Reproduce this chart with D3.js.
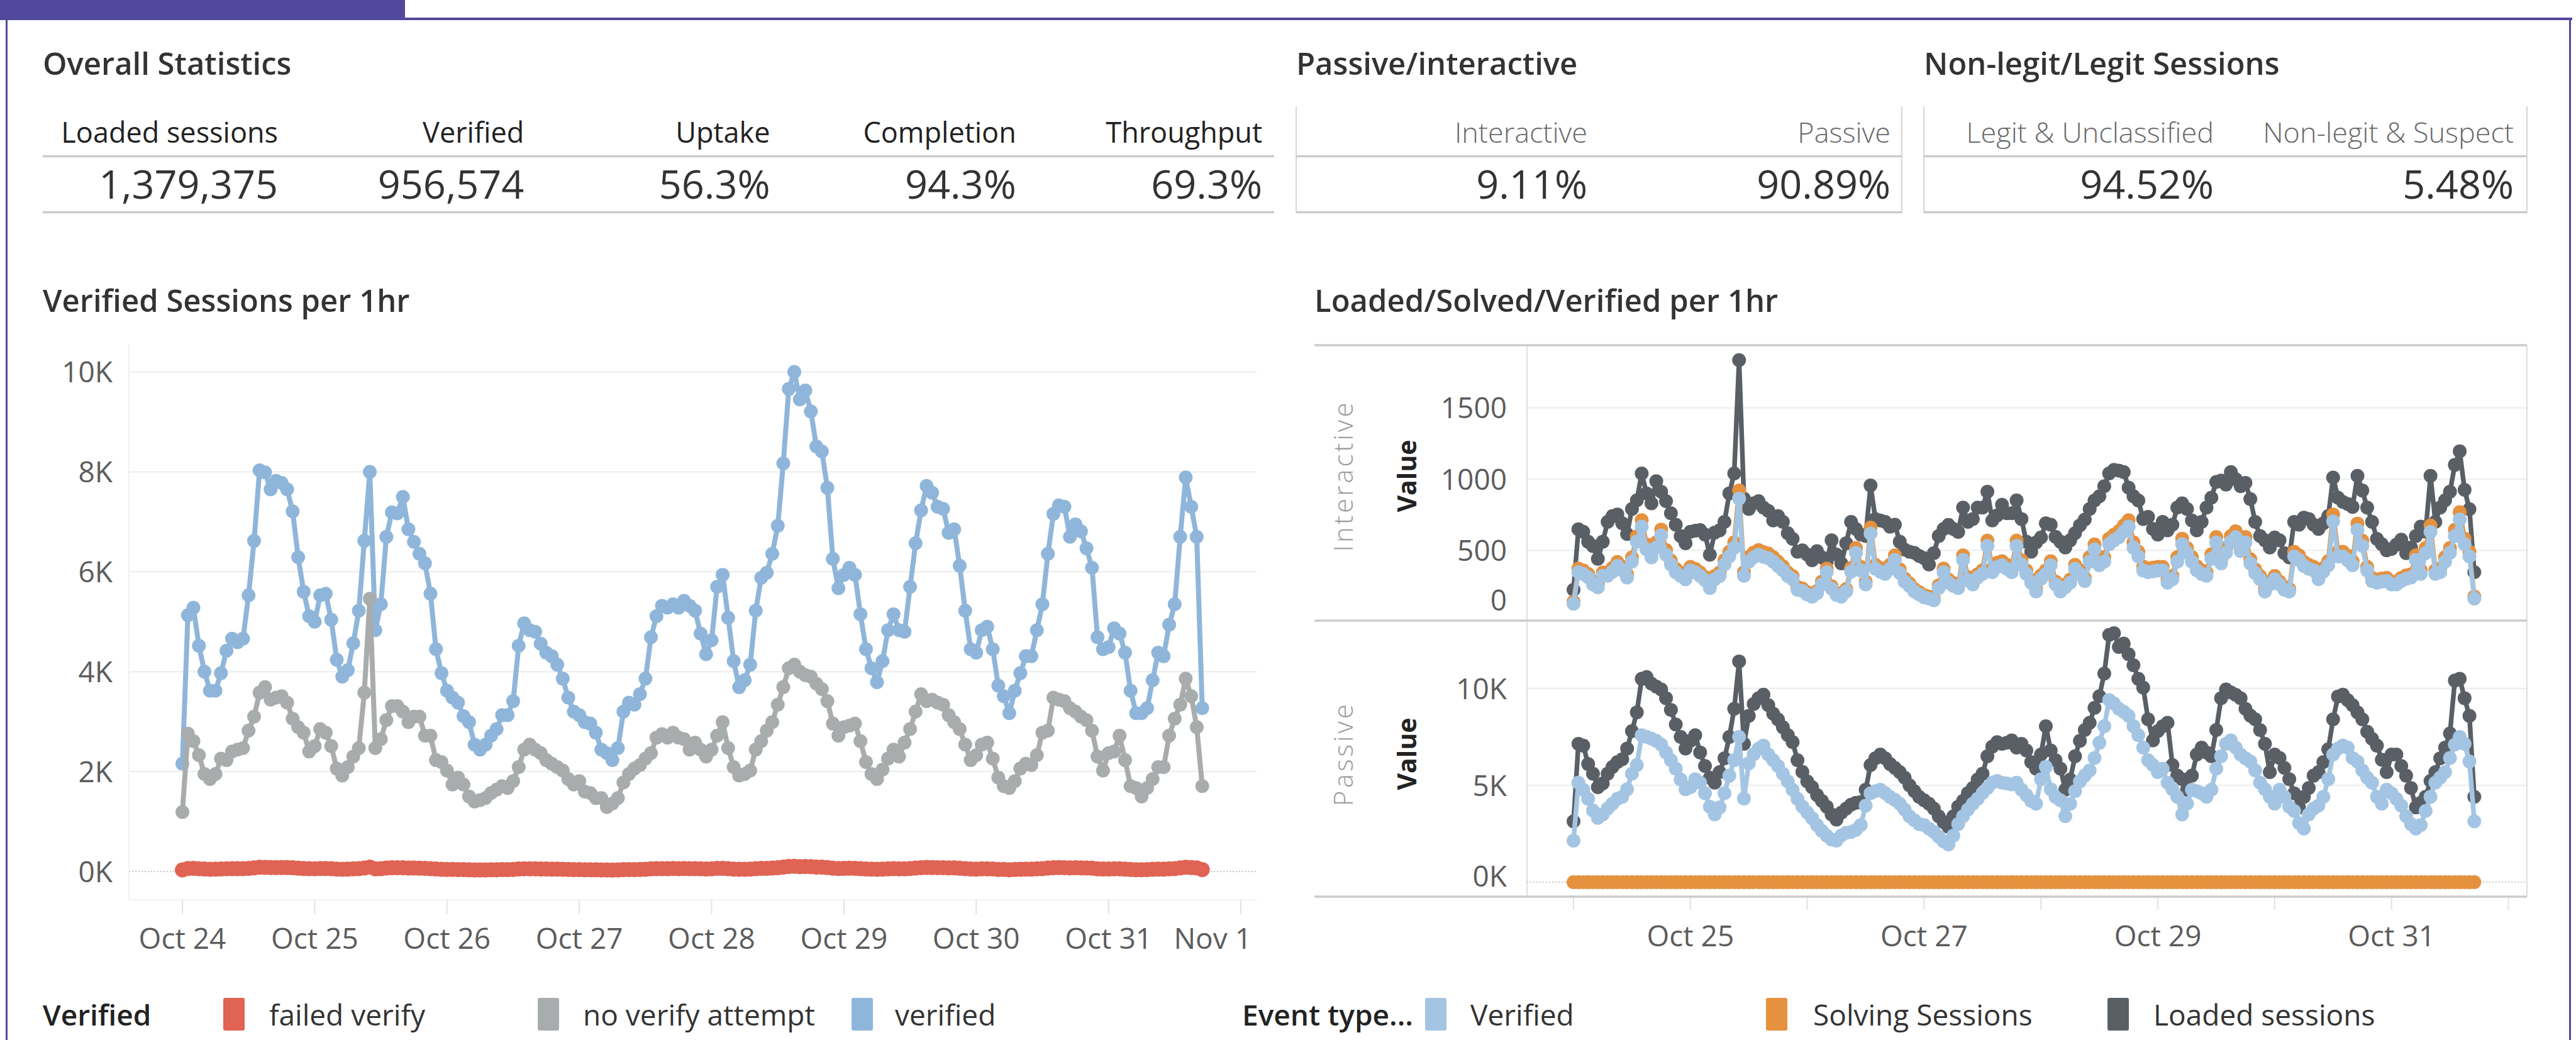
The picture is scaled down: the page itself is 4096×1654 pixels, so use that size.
<!DOCTYPE html>
<html><head><meta charset="utf-8">
<script src="https://cdn.jsdelivr.net/npm/d3@7"></script>
<style>html,body{margin:0;padding:0;background:#fff;overflow:hidden;}</style>
</head><body>
<script>
// ---------------- DATA ----------------
const statHeaders = ["Loaded sessions","Verified","Uptake","Completion","Throughput"];
const statValues  = ["1,379,375","956,574","56.3%","94.3%","69.3%"];
const piHeaders = ["Interactive","Passive"];
const piValues  = ["9.11%","90.89%"];
const legitHeaders = ["Legit & Unclassified","Non-legit & Suspect"];
const legitValues  = ["94.52%","5.48%"];

const dayLabelsLeft = ["Oct 24","Oct 25","Oct 26","Oct 27","Oct 28","Oct 29","Oct 30","Oct 31","Nov 1"];
const dayLabelsRight = ["","Oct 25","","Oct 27","","Oct 29","","Oct 31",""];
const leftYTicks = [0,2000,4000,6000,8000,10000];
const leftYLabels = ["0K","2K","4K","6K","8K","10K"];
const interYTicks = [0,500,1000,1500];
const interYLabels = ["0","500","1000","1500"];
const passYTicks = [0,5000,10000];
const passYLabels = ["0K","5K","10K"];

const leftLegend = ["failed verify","no verify attempt","verified"];
const rightLegend = ["Verified","Solving Sessions","Loaded sessions"];

// hourly values from Oct 24 00:00 (186 hours)
const verified = [2160,5130,5280,4520,4000,3620,3620,3970,4420,4660,
4590,4660,5530,6620,8030,7990,7650,7820,7780,7650,
7210,6290,5600,5110,5000,5530,5560,5040,4240,3900,
4030,4570,5220,6620,8000,4830,5350,6700,7190,7170,
7500,6850,6600,6360,6170,5560,4450,3970,3620,3480,
3380,3110,2990,2540,2440,2540,2720,2850,3130,3130,
3410,4520,4970,4830,4800,4560,4380,4310,4140,3860,
3480,3200,3130,2990,2960,2780,2440,2370,2230,2470,
3200,3380,3340,3550,3860,4690,5110,5320,5280,5350,
5280,5420,5320,5220,4760,4350,4630,5700,5940,5080,
4210,3690,3830,4140,5220,5880,5980,6360,6920,8170,
9660,10000,9450,9630,9210,8510,8410,7680,6260,5670,
5940,6080,5940,5150,4450,4070,3790,4210,4830,5150,
4830,4800,5700,6570,7230,7720,7580,7300,7260,6780,
6850,6120,5220,4450,4380,4830,4900,4450,3720,3510,
3170,3620,3970,4310,4310,4830,5350,6360,7160,7330,
7300,6700,6950,6810,6470,6080,4690,4450,4490,4870,
4760,4380,3620,3170,3170,3270,3830,4380,4310,4940,
5350,6700,7890,7300,6700,3270];
const noVerify = [1190,2760,2610,2330,1950,1850,1950,2260,2230,2400,
2440,2470,2820,3100,3580,3690,3440,3480,3510,3380,
3060,2890,2780,2400,2510,2850,2780,2510,2060,1920,
2090,2300,2470,3580,5460,2470,2650,3030,3310,3310,
3200,2990,3100,3100,2720,2720,2230,2190,2020,1740,
1880,1740,1500,1400,1430,1470,1570,1640,1710,1670,
1810,2090,2440,2540,2440,2370,2230,2160,2090,2020,
1850,1740,1810,1600,1570,1470,1470,1290,1360,1470,
1780,1950,2060,2130,2260,2370,2680,2750,2680,2780,
2680,2650,2440,2580,2440,2300,2440,2720,2990,2470,
2090,1920,1950,2020,2440,2610,2820,2990,3340,3690,
4070,4140,4000,3930,3900,3760,3650,3410,2960,2720,
2890,2920,2960,2610,2190,1950,1850,2040,2260,2440,
2300,2580,2850,3200,3550,3410,3440,3380,3340,3130,
2990,2850,2540,2230,2330,2540,2580,2260,1880,1710,
1670,1810,2060,2160,2130,2330,2780,2820,3480,3440,
3410,3270,3200,3100,3030,2820,2300,2020,2370,2400,
2720,2230,1710,1670,1500,1670,1850,2090,2090,2720,
3060,3340,3860,3510,2890,1710];
const failedVerify = [30,60,62,55,50,45,46,50,55,57,
56,58,64,72,85,82,78,80,80,78,
74,66,60,56,55,60,61,56,48,44,
46,52,58,70,88,54,58,70,74,74,
76,70,68,66,64,58,49,45,42,40,
39,37,36,32,31,32,34,35,38,38,
40,50,55,54,53,51,49,48,47,44,
40,38,37,36,35,34,31,30,29,31,
37,39,39,41,44,52,56,58,58,59,
58,59,58,57,53,49,52,62,64,56,
48,43,44,47,57,63,64,68,74,88,
102,105,98,100,96,89,88,80,67,61,
64,65,64,56,49,46,43,47,53,56,
53,53,61,70,77,82,80,77,77,72,
73,66,57,49,48,53,54,49,42,40,
36,41,44,48,48,53,58,68,76,78,
77,71,74,72,69,65,52,49,50,54,
52,48,41,36,36,37,43,48,48,54,
58,71,84,78,71,37];

const interLoaded = [223,648,630,560,530,440,560,700,740,752,
690,615,790,851,1040,900,830,986,912,845,
760,680,600,550,630,638,642,610,469,625,
640,700,900,1040,1836,863,790,830,845,800,
777,710,740,700,620,580,490,500,470,430,
494,450,420,570,470,408,550,700,650,610,
600,956,720,710,700,666,680,560,505,490,
482,460,445,400,480,600,650,679,650,629,
800,700,720,800,800,912,710,745,820,760,
760,851,720,560,490,555,590,690,680,595,
560,520,570,620,675,716,790,850,880,950,
1040,1065,1060,1050,940,880,850,720,735,650,
610,700,640,680,800,830,790,710,640,700,
800,870,980,990,962,1050,1000,950,974,860,
700,600,570,520,590,570,480,450,700,680,
730,720,680,650,690,740,1011,870,840,826,
805,1023,920,800,700,580,543,500,510,540,
575,480,520,600,666,630,1023,700,800,851,
912,1100,1196,925,789,346];
const interSolving = [140,372,358,334,282,262,344,345,376,418,
386,332,450,598,712,542,482,556,646,502,
428,370,344,320,384,370,344,312,254,320,
344,430,490,556,920,346,452,484,502,488,
478,452,420,388,344,320,242,232,206,190,
214,280,372,248,202,190,228,376,516,384,
280,660,398,376,360,398,464,366,302,268,
228,206,184,175,162,254,372,294,270,254,
464,312,280,332,360,568,372,412,424,398,
372,568,430,360,294,228,324,360,424,280,
228,260,294,398,360,306,452,542,424,452,
582,610,634,674,712,556,490,386,372,378,
384,384,294,320,452,582,516,452,388,360,
346,472,594,438,516,600,634,530,594,438,
366,320,228,280,320,280,242,228,490,464,
418,398,384,320,376,424,752,490,490,462,
424,688,568,384,306,294,302,306,280,280,
306,324,332,464,360,516,674,360,372,452,
516,644,768,582,490,175];
const interVerified = [124,346,334,310,260,240,321,321,350,390,
360,309,420,560,666,506,450,520,605,469,
400,345,320,297,358,345,320,290,235,297,
320,400,457,518,863,321,420,450,469,455,
445,420,390,360,320,297,223,215,190,174,
198,260,346,230,186,174,211,350,482,358,
260,617,371,350,334,371,432,340,280,248,
211,190,170,161,149,235,346,272,250,235,
432,290,260,309,334,531,346,383,395,370,
346,531,400,334,272,211,300,334,395,260,
211,240,272,371,334,284,420,506,395,420,
543,570,592,630,666,518,457,358,346,352,
358,358,272,297,420,543,482,420,360,334,
321,440,555,408,482,560,592,494,555,408,
340,297,211,260,297,260,223,211,457,432,
390,371,358,297,350,395,703,457,457,430,
395,642,531,358,284,272,280,284,260,260,
284,300,309,432,334,480,629,334,346,420,
482,600,716,543,457,161];

const passLoaded = [3140,7140,7050,6100,5600,4900,5100,5600,5950,6200,
6350,6900,7800,8770,10500,10590,10250,10100,9950,9500,
8900,8140,7500,6900,7300,7590,6700,6000,5400,5140,
5680,6400,7500,8950,11400,7140,8590,9200,9500,9680,
9140,8700,8400,8000,7600,7230,6300,5700,5200,4900,
4500,4200,3900,3500,3230,3590,3800,4000,4100,4140,
4770,6050,6400,6590,6400,6100,5900,5680,5400,5000,
4700,4400,4230,4050,3800,3400,3100,2860,3400,3900,
4200,4600,4860,5300,5600,6500,7000,7230,7140,7200,
7320,6950,7140,6800,6200,5860,6590,8050,6800,6300,
5860,4770,5300,6500,7300,7860,8230,9000,9600,10770,
12770,12860,12140,12320,11770,11200,10500,10050,8410,7320,
7800,8050,8230,6050,5500,5320,4770,5500,6590,6950,
6700,6500,7860,9500,9950,9800,9680,9500,8950,8600,
8410,7860,7140,5680,6590,6410,5900,5320,4590,3860,
4400,4860,5500,5680,6200,6860,8410,9590,9680,9400,
9140,8770,8410,7770,7400,7050,6320,5680,6590,6590,
6000,5500,4860,3860,4100,4410,5230,5680,6400,6950,
7680,10410,10500,9500,8590,4410];
const passVerified = [2140,5140,4770,4300,3700,3320,3500,3800,4050,4300,
4410,4800,5600,6050,7590,7500,7410,7300,7100,6700,
6300,5860,5300,4800,4900,5320,5140,4590,3900,3500,
3860,4590,5500,6300,7500,4320,6140,6600,6900,7050,
6590,6300,6000,5600,5200,4770,4300,3900,3600,3300,
2950,2650,2400,2200,2140,2410,2550,2590,2700,2950,
3950,4590,4700,4770,4600,4400,4250,4050,3750,3400,
3200,3000,2950,2770,2600,2350,2100,1950,2400,3000,
3400,3750,4050,4300,4600,4860,5140,5230,5140,5100,
5050,5140,4770,4500,4200,4050,5320,5950,4800,4400,
4230,3410,4050,4700,5200,5500,5770,6410,7200,8050,
9410,9230,8950,8800,8590,8050,7590,6950,6300,6050,
5680,5860,5140,4800,4410,3500,4050,4770,4700,4590,
4410,4770,5860,6500,7140,7320,6950,6590,6400,6230,
5770,5140,4800,4410,4050,4770,4410,3900,3680,3050,
2770,3500,3800,3950,4410,5320,6590,6900,7050,6950,
6410,6230,5770,5400,5140,4410,4050,4770,4590,4300,
3950,3410,3000,2770,2950,3680,4410,5140,5400,5680,
6410,7100,7500,7140,6230,3140];
const passSolving = [0,0,0,0,0,0,0,0,0,0, 0,0,0,0,0,0,0,0,0,0,
0,0,0,0,0,0,0,0,0,0, 0,0,0,0,0,0,0,0,0,0,
0,0,0,0,0,0,0,0,0,0, 0,0,0,0,0,0,0,0,0,0,
0,0,0,0,0,0,0,0,0,0, 0,0,0,0,0,0,0,0,0,0,
0,0,0,0,0,0,0,0,0,0, 0,0,0,0,0,0,0,0,0,0,
0,0,0,0,0,0,0,0,0,0, 0,0,0,0,0,0,0,0,0,0,
0,0,0,0,0,0,0,0,0,0, 0,0,0,0,0,0,0,0,0,0,
0,0,0,0,0,0,0,0,0,0, 0,0,0,0,0,0,0,0,0,0,
0,0,0,0,0,0,0,0,0,0, 0,0,0,0,0,0,0,0,0,0,
0,0,0,0,0,0];

// ---------------- STYLE ----------------
const C = {purple:"#52489c", red:"#e06353", gray:"#a9acad", blue:"#8fb6da",
  lblue:"#a3c5e3", orange:"#e5913e", dark:"#5a5f66", grid:"#efefef", rule:"#cbcbcb",
  title:"#333", axis:"#5c5c5c"};
const FONT = "'Open Sans', 'Noto Sans', sans-serif";
const W = 4096, H = 1654;

const svg = d3.select("body").append("svg").attr("width", W).attr("height", H)
  .style("font-family", FONT).style("display","block");
svg.append("rect").attr("width", W).attr("height", H).attr("fill", "#fff");

// frame
svg.append("rect").attr("x",0).attr("y",0).attr("width",644).attr("height",32).attr("fill",C.purple);
svg.append("rect").attr("x",0).attr("y",28).attr("width",4090).attr("height",4).attr("fill",C.purple);
svg.append("rect").attr("x",9).attr("y",0).attr("width",3).attr("height",H).attr("fill",C.purple);
svg.append("rect").attr("x",4085).attr("y",28).attr("width",3).attr("height",H).attr("fill",C.purple);

function title(x, y, s) {
  svg.append("text").attr("x",x).attr("y",y).text(s)
    .attr("font-size",49).attr("font-weight",600).attr("fill",C.title);
}
function hrule(x1, x2, y, w, col) {
  svg.append("line").attr("x1",x1).attr("x2",x2).attr("y1",y).attr("y2",y)
    .attr("stroke",col||C.rule).attr("stroke-width",w||3.5);
}
function vrule(x, y1, y2, w, col) {
  svg.append("line").attr("x1",x).attr("x2",x).attr("y1",y1).attr("y2",y2)
    .attr("stroke",col||"#d6d6d6").attr("stroke-width",w||2);
}

// ---------------- KPI TABLES ----------------
title(68, 119, "Overall Statistics");
title(2061, 119, "Passive/interactive");
title(3059, 119, "Non-legit/Legit Sessions");

const xs = d3.scalePoint().domain(statHeaders).range([442, 2007]);
statHeaders.forEach((h, i) => {
  svg.append("text").attr("x", xs(h)).attr("y", 227).attr("text-anchor","end")
    .attr("font-size",45).attr("font-weight",500).attr("fill","#222").text(h);
  svg.append("text").attr("x", xs(h)).attr("y", 316).attr("text-anchor","end")
    .attr("font-size",63).attr("fill","#333").text(statValues[i]);
});
hrule(68, 2026, 248.5);
hrule(68, 2026, 337.5);

function box(x0, x1, headers, values, rights) {
  vrule(x0, 169, 339); vrule(x1, 169, 339);
  hrule(x0, x1, 248.5); hrule(x0, x1, 337.5);
  const sc = d3.scalePoint().domain(headers).range(rights);
  headers.forEach((h, i) => {
    svg.append("text").attr("x", sc(h)).attr("y", 227).attr("text-anchor","end")
      .attr("font-size",45).attr("font-weight",300).attr("fill","#6a6a6a").text(h);
    svg.append("text").attr("x", sc(h)).attr("y", 316).attr("text-anchor","end")
      .attr("font-size",63).attr("fill","#333").text(values[i]);
  });
}
box(2061, 3024, piHeaders, piValues, [2524, 3006]);
box(3059, 4018, legitHeaders, legitValues, [3520, 3997]);

// ---------------- LEFT CHART ----------------
title(68, 496, "Verified Sessions per 1hr");
const L = {x0:205, x1:1998, y0:548, y1:1431};
const xL = d3.scaleLinear().domain([0, 192]).range([290, 1973]);
const yL = d3.scaleLinear().domain([0, 10000]).range([1386, 591.6]);
const gL = svg.append("g");
vrule(L.x0, L.y0, L.y1, 1.5, "#ececec");
hrule(L.x0, L.x1, L.y1, 1.5, "#ececec");
leftYTicks.forEach((t, i) => {
  if (t > 0) gL.append("line").attr("x1",L.x0).attr("x2",L.x1).attr("y1",yL(t)).attr("y2",yL(t))
    .attr("stroke",C.grid).attr("stroke-width",2.5);
  gL.append("text").attr("x",179).attr("y",yL(t)).attr("dy","0.36em").attr("text-anchor","end")
    .attr("font-size",46).attr("fill",C.axis).text(leftYLabels[i]);
});
gL.append("line").attr("x1",L.x0).attr("x2",L.x1).attr("y1",yL(0)).attr("y2",yL(0))
  .attr("stroke","#b5b5b5").attr("stroke-width",1.5).attr("stroke-dasharray","2,3");
dayLabelsLeft.forEach((lab, i) => {
  const xv = xL(i * 24);
  gL.append("line").attr("x1",xv).attr("x2",xv).attr("y1",L.y1).attr("y2",L.y1+23)
    .attr("stroke","#e2e2e2").attr("stroke-width",2);
  const t = gL.append("text").attr("x",xv).attr("y",1509).attr("text-anchor","middle")
    .attr("font-size",46).attr("fill",C.axis).text(lab);
  const w = t.node().getComputedTextLength();
  if (xv + w/2 > L.x1 - 8) t.attr("x", L.x1 - 8 - w/2);
});

function series(g, data, x, y, col, r, sw) {
  const line = d3.line().x((d, i) => x(i)).y(d => y(d));
  g.append("path").datum(data).attr("d", line).attr("fill","none")
    .attr("stroke",col).attr("stroke-width",sw).attr("stroke-linejoin","round");
  g.append("g").selectAll("circle").data(data).join("circle")
    .attr("cx",(d, i) => x(i)).attr("cy", d => y(d)).attr("r", r).attr("fill", col);
}
series(gL, verified, xL, yL, C.blue, 11, 8);
series(gL, noVerify, xL, yL, C.gray, 11, 8);
series(gL, failedVerify, xL, yL, C.red, 12, 8);

// ---------------- RIGHT CHART ----------------
title(2090, 496, "Loaded/Solved/Verified per 1hr");
const R = {x0:2090, xp:2428, x1:4018, y0:549, ym:987, y1:1426};
const xR = d3.scaleLinear().domain([0, 192]).range([2502, 3988.5]);
const yI = d3.scaleLinear().domain([0, 1500]).range([988.4, 648.8]);
const yP = d3.scaleLinear().domain([0, 10000]).range([1403, 1095]);
const gR = svg.append("g");

interYTicks.forEach(t => { if (t > 0)
  gR.append("line").attr("x1",R.xp).attr("x2",R.x1).attr("y1",yI(t)).attr("y2",yI(t))
    .attr("stroke",C.grid).attr("stroke-width",2.5); });
passYTicks.forEach(t => { if (t > 0)
  gR.append("line").attr("x1",R.xp).attr("x2",R.x1).attr("y1",yP(t)).attr("y2",yP(t))
    .attr("stroke",C.grid).attr("stroke-width",2.5); });
gR.append("line").attr("x1",R.xp).attr("x2",R.x1).attr("y1",yP(0)).attr("y2",yP(0))
  .attr("stroke","#b5b5b5").attr("stroke-width",1.5).attr("stroke-dasharray","2,3");

function ylabels(ticks, labels, sc, top, bottom) {
  ticks.forEach((t, i) => {
    let yy = sc(t);
    yy = Math.min(yy, bottom - 33); yy = Math.max(yy, top + 33);
    gR.append("text").attr("x",2396).attr("y",yy).attr("dy","0.36em").attr("text-anchor","end")
      .attr("font-size",46).attr("fill",C.axis).text(labels[i]);
  });
}
ylabels(interYTicks, interYLabels, yI, R.y0, R.ym);
ylabels(passYTicks, passYLabels, yP, R.ym, R.y1);

function rowLabel(name, cy) {
  gR.append("text").attr("transform",`translate(2151,${cy}) rotate(-90)`).attr("text-anchor","middle")
    .attr("font-size",42).attr("font-weight",300).attr("letter-spacing",4).attr("fill","#9a9a9a").text(name);
  gR.append("text").attr("transform",`translate(2252,${cy}) rotate(-90)`).attr("text-anchor","middle")
    .attr("font-size",41).attr("font-weight",700).attr("fill","#222").text("Value");
}
rowLabel(piHeaders[0], 757);
rowLabel(piHeaders[1], 1199);

dayLabelsRight.forEach((lab, i) => {
  const xv = xR(i * 24);
  gR.append("line").attr("x1",xv).attr("x2",xv).attr("y1",R.y1).attr("y2",R.y1+21)
    .attr("stroke","#e2e2e2").attr("stroke-width",2);
  if (lab) gR.append("text").attr("x",xv).attr("y",1505).attr("text-anchor","middle")
    .attr("font-size",46).attr("fill",C.axis).text(lab);
});

series(gR, interLoaded, xR, yI, C.dark, 11, 7.5);
series(gR, interSolving, xR, yI, C.orange, 11, 7.5);
series(gR, interVerified, xR, yI, C.lblue, 11, 7.5);
series(gR, passLoaded, xR, yP, C.dark, 11, 7.5);
series(gR, passVerified, xR, yP, C.lblue, 11, 7.5);
series(gR, passSolving, xR, yP, C.orange, 11, 7.5);

// frame lines of the right chart
hrule(R.x0, R.x1, R.y0, 3.5);
hrule(R.x0, R.x1, R.ym, 3.5);
hrule(R.x0, R.x1, R.y1, 3.5);
vrule(R.xp, R.y0, R.y1, 1.5, "#d3d3d3");
vrule(R.x1, R.y0, R.y1, 1.5, "#d3d3d3");

// ---------------- LEGENDS ----------------
function legend(titleText, tx, items, cols, swX, txtX) {
  svg.append("text").attr("x",tx).attr("y",1631).attr("font-size",46).attr("font-weight",600)
    .attr("fill","#222").text(titleText);
  items.forEach((it, i) => {
    svg.append("rect").attr("x",swX[i]).attr("y",1587).attr("width",34).attr("height",52)
      .attr("rx",3).attr("fill",cols[i]);
    svg.append("text").attr("x",txtX[i]).attr("y",1631).attr("font-size",46)
      .attr("fill","#333").text(it);
  });
}
legend("Verified", 68, leftLegend, [C.red, C.gray, C.blue], [355, 855, 1354], [428, 927, 1423]);
legend("Event type...", 1975, rightLegend, [C.lblue, C.orange, C.dark], [2266, 2808, 3351], [2338, 2883, 3424]);
</script>
</body></html>
